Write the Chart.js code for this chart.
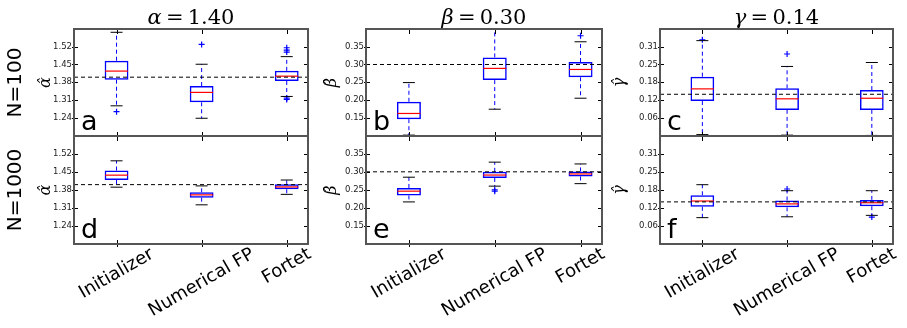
<!DOCTYPE html>
<html>
<head>
<meta charset="utf-8">
<script src="https://cdn.jsdelivr.net/npm/chart.js@4.4.0/dist/chart.umd.min.js"></script>
<style>
  body { margin: 0; background: #fff; }
  #wrap { position: relative; width: 907px; height: 328px; }
  #wrap canvas { position: absolute; left: 0; top: 0; }
</style>
</head>
<body>
<div id="wrap">
  <canvas id="p0" width="907" height="328"></canvas>
  <canvas id="p1" width="907" height="328"></canvas>
  <canvas id="p2" width="907" height="328"></canvas>
  <canvas id="p3" width="907" height="328"></canvas>
  <canvas id="p4" width="907" height="328"></canvas>
  <canvas id="p5" width="907" height="328"></canvas>
</div>
<script>
// categories and labels
const methods = ['Initializer', 'Numerical FP', 'Fortet'];
const paramNames = ['α', 'β', 'γ'];
const paramTitles = ['1.40', '0.30', '0.14'];
const rowLabels = ['N=100', 'N=1000'];
const letters = ['a', 'b', 'c', 'd', 'e', 'f'];

// y ticks per column
const alphaTicks = [1.24, 1.31, 1.38, 1.45, 1.52];
const betaTicks = [0.15, 0.20, 0.25, 0.30, 0.35];
const gammaTicks = [0.0625, 0.125, 0.1875, 0.25, 0.3125];
const gammaTickLabels = ['0.06', '0.12', '0.18', '0.25', '0.31'];

// dashed reference value per column
const refValues = [1.40, 0.30, 0.145];

// box stats: [lower cap, q1, median, q3, upper cap] per method
const alpha100 = [[1.287, 1.390, 1.424, 1.465, 1.577], [1.238, 1.301, 1.340, 1.365, 1.451], [1.324, 1.385, 1.404, 1.425, 1.481]];
const alpha100Fliers = [[1.264], [1.529], [1.516, 1.507, 1.499, 1.317, 1.312]];
const beta100 = [[0.101, 0.146, 0.162, 0.195, 0.249], [0.174, 0.256, 0.289, 0.320, 0.405], [0.205, 0.264, 0.286, 0.307, 0.364]];
const beta100Fliers = [[], [], [0.381]];
const gamma100 = [[0.003, 0.121, 0.164, 0.207, 0.334], [0.001, 0.090, 0.129, 0.166, 0.243], [0.000, 0.090, 0.131, 0.160, 0.257]];
const gamma100Fliers = [[0.337], [0.287], []];

const alpha1000 = [[1.390, 1.418, 1.437, 1.455, 1.493], [1.321, 1.349, 1.360, 1.370, 1.395], [1.362, 1.382, 1.391, 1.401, 1.418]];
const alpha1000Fliers = [[], [], []];
const beta1000 = [[0.216, 0.234, 0.246, 0.255, 0.285], [0.260, 0.283, 0.291, 0.300, 0.327], [0.267, 0.287, 0.294, 0.301, 0.322]];
const beta1000Fliers = [[], [0.250, 0.246], []];
const gamma1000 = [[0.090, 0.128, 0.148, 0.168, 0.205], [0.093, 0.126, 0.138, 0.150, 0.184], [0.098, 0.130, 0.142, 0.152, 0.184]];
const gamma1000Fliers = [[], [0.190], [0.092]];

const panels = [
  [alpha100, alpha100Fliers], [beta100, beta100Fliers], [gamma100, gamma100Fliers],
  [alpha1000, alpha1000Fliers], [beta1000, beta1000Fliers], [gamma1000, gamma1000Fliers]
];

// layout (pixels)
const colLeft = [74, 366, 660];
const colRight = [308, 602, 893];
const rowTop = [29, 136];
const rowBottom = [136, 244];
const yTitleX = [46, 332, 620];
const yLimits = [[1.168, 1.59], [0.0985, 0.40], [-0.002, 0.375]];
const xMin = 0.5, xMax = 3.25;

const BLUE = '#0000ff';

const panelDeco = {
  id: 'panelDeco',
  afterDatasetsDraw(chart, args, o) {
    const {ctx, chartArea: a, scales: {x, y}} = chart;
    ctx.save();
    // ticks, inward
    ctx.strokeStyle = '#000';
    ctx.lineWidth = 1;
    ctx.beginPath();
    x.ticks.forEach(t => {
      const px = Math.round(x.getPixelForValue(t.value)) + 0.5;
      ctx.moveTo(px, a.top - 1); ctx.lineTo(px, a.top + 5);
      ctx.moveTo(px, a.bottom + 3); ctx.lineTo(px, a.bottom - 4);
    });
    y.ticks.forEach(t => {
      const py = Math.round(y.getPixelForValue(t.value)) + 0.5;
      ctx.moveTo(a.left - 2, py); ctx.lineTo(a.left + 4, py);
      ctx.moveTo(a.right + 1, py); ctx.lineTo(a.right - 4, py);
    });
    ctx.stroke();
    // frame
    ctx.strokeStyle = '#555';
    ctx.lineWidth = 2;
    ctx.strokeRect(a.left, a.top, a.right - a.left, a.bottom - a.top);
    // panel letter
    ctx.fillStyle = '#000';
    ctx.font = '27px "DejaVu Sans"';
    ctx.textAlign = 'left';
    ctx.textBaseline = 'alphabetic';
    ctx.fillText(o.letter, a.left + 7, a.bottom - 6);
    // column title
    if (o.title) {
      const f1 = 'italic 21px "DejaVu Serif"', f2 = '21px "DejaVu Serif"';
      ctx.font = f1; const w1 = ctx.measureText(o.title[0]).width;
      ctx.font = f2; const w2 = ctx.measureText(o.title[1]).width;
      const sx = (a.left + a.right) / 2 - (w1 + w2) / 2;
      ctx.font = f1; ctx.fillText(o.title[0], sx, 24);
      ctx.font = f2; ctx.fillText(o.title[1], sx + w1, 24);
    }
    // row label
    if (o.row) {
      ctx.save();
      ctx.translate(16, (a.top + a.bottom) / 2);
      ctx.rotate(-Math.PI / 2);
      ctx.font = '20px "DejaVu Sans"';
      ctx.textAlign = 'center';
      ctx.textBaseline = 'middle';
      ctx.fillText(o.row, 0, 0);
      ctx.restore();
    }
    // category labels, rotated 30 deg and centred under ticks
    if (o.xlabels) {
      ctx.font = '18px "DejaVu Sans"';
      ctx.textAlign = 'center';
      ctx.textBaseline = 'middle';
      o.xlabels.forEach((lab, i) => {
        const w = ctx.measureText(lab).width;
        const cx = x.getPixelForValue(i + 1);
        const cy = a.bottom + 4 + (w * 0.5 + 10) / 2;
        ctx.save();
        ctx.translate(cx, cy);
        ctx.rotate(-Math.PI / 6);
        ctx.fillText(lab, 0, 0);
        ctx.restore();
      });
    }
    ctx.restore();
  }
};

function makePanel(idx) {
  const col = idx % 3, row = Math.floor(idx / 3);
  const [stats, fliers] = panels[idx];
  const ticks = [alphaTicks, betaTicks, gammaTicks][col];
  const ref = refValues[col];

  const whiskers = [];
  const caps = [];
  const medians = [];
  const outs = [];
  stats.forEach((s, i) => {
    const p = i + 1;
    whiskers.push({x: p, y: s[3]}, {x: p, y: s[4]}, {x: p, y: null},
                  {x: p, y: s[1]}, {x: p, y: s[0]}, {x: p, y: null});
    caps.push({x: p, y: s[0]}, {x: p, y: s[4]});
    medians.push({x: p, y: s[2]});
    fliers[i].forEach(v => outs.push({x: p, y: v}));
  });

  const padLeft = yTitleX[col] - 9.6;
  const axisWidth = colLeft[col] - padLeft;

  new Chart(document.getElementById('p' + idx), {
    type: 'bar',
    data: {
      datasets: [
        {
          type: 'line', data: [{x: xMin, y: ref}, {x: xMax, y: ref}],
          borderColor: '#000', borderWidth: 1, borderDash: [4, 3], pointRadius: 0, clip: 0
        },
        {
          type: 'line', data: medians, showLine: false,
          pointStyle: 'line', pointRadius: 11.5, pointBorderColor: '#ff0000', pointBorderWidth: 1.2, clip: 0
        },
        {
          type: 'line', data: caps, showLine: false,
          pointStyle: 'line', pointRadius: 6, pointBorderColor: '#000', pointBorderWidth: 1, clip: 0
        },
        {
          type: 'line', data: outs, showLine: false,
          pointStyle: 'cross', pointRadius: 3, pointBorderColor: BLUE, pointBorderWidth: 1.2, clip: 0
        },
        {
          type: 'line', data: whiskers, spanGaps: false,
          borderColor: BLUE, borderWidth: 1, borderDash: [4, 3], pointRadius: 0, clip: 0
        },
        {
          type: 'bar', data: stats.map((s, i) => ({x: i + 1, y: [s[1], s[3]]})),
          backgroundColor: 'rgba(0,0,0,0)', borderColor: BLUE, borderWidth: 1.5,
          borderSkipped: false, categoryPercentage: 1, barPercentage: 0.28, clip: 0
        }
      ]
    },
    options: {
      responsive: false,
      animation: false,
      events: [],
      layout: {
        padding: {left: padLeft, right: 907 - colRight[col], top: rowTop[row], bottom: 328 - rowBottom[row]}
      },
      plugins: {
        legend: {display: false},
        tooltip: {enabled: false},
        panelDeco: {
          letter: letters[idx],
          title: row === 0 ? [paramNames[col], '\u2009=\u2009' + paramTitles[col]] : null,
          row: col === 0 ? rowLabels[row] : null,
          xlabels: row === 1 ? methods : null
        }
      },
      scales: {
        x: {
          type: 'linear', display: false, min: xMin, max: xMax, offset: false,
          afterBuildTicks: s => { s.ticks = methods.map((m, i) => ({value: i + 1})); }
        },
        y: {
          min: yLimits[col][0], max: yLimits[col][1],
          afterBuildTicks: s => { s.ticks = ticks.map(v => ({value: v})); },
          afterFit: s => { s.width = axisWidth; },
          grid: {display: false, drawTicks: false},
          border: {display: false},
          ticks: {
            padding: 2, color: '#222',
            font: {family: 'DejaVu Sans', size: 8.5},
            callback: v => col === 2 ? gammaTickLabels[gammaTicks.indexOf(v)] : v.toFixed(2)
          },
          title: {
            display: true, text: paramNames[col] + '\u0302', color: '#000',
            padding: {top: 0, bottom: 0},
            font: {family: 'DejaVu Serif', style: 'italic', size: 16}
          }
        }
      }
    },
    plugins: [panelDeco]
  });
}

for (let i = 0; i < 6; i++) makePanel(i);
</script>
</body>
</html>
